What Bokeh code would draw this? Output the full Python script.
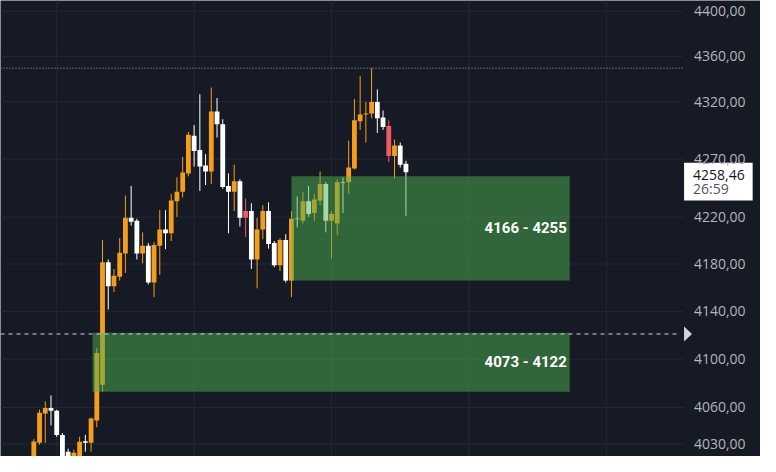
import math
from bokeh.plotting import figure
from bokeh.models import Range1d, ColumnDataSource
from bokeh.core.properties import value
from bokeh.embed import file_html
from bokeh.resources import INLINE

# ---------------- data ----------------
opens = [4013, 4031, 4055, 4059.6, 4057.4, 4037.3, 4023.7, 4011.7, 4017.3, 4032.3,
         4031, 4049.2, 4078.7, 4181.4, 4161.1, 4169.2, 4188.8, 4219.3, 4216.8, 4188.8,
         4195.4, 4164.3, 4195.4, 4209.4, 4206.1, 4233.5, 4241.7, 4257.5, 4290.2, 4277.7,
         4264.3, 4259.2, 4311.3, 4300.3, 4246.7, 4241.7, 4250.8, 4225.1, 4225.1, 4183.8,
         4209.4, 4225.1, 4197.8, 4178.9, 4200.3, 4165.9, 4218.8, 4216.8, 4233.5, 4223.4,
         4234.2, 4248.3, 4216.8, 4214.4, 4250, 4250, 4261.7, 4302.9, 4308.8, 4309.6,
         4319.7, 4306.2, 4298.6, 4272.6, 4281.7, 4265.9]
highs = [4034, 4058.2, 4065.1, 4070, 4058.1, 4039, 4026.2, 4025.4, 4035.9, 4037.5,
         4051.7, 4109, 4200.3, 4183.8, 4175.7, 4202, 4238.4, 4246.7, 4218.5, 4206.9,
         4197.8, 4198.6, 4225.9, 4225.9, 4240, 4254.2, 4271.8, 4293.5, 4299.5, 4326.5,
         4274.2, 4332.4, 4323.2, 4304.6, 4257.5, 4265, 4252.4, 4235.9, 4231.8, 4219.3,
         4230.1, 4232.6, 4199.5, 4202, 4205.3, 4225.1, 4237.7, 4241.7, 4246.7, 4240,
         4259.2, 4250, 4225.1, 4252.4, 4254.2, 4285.9, 4322.3, 4342.7, 4319.7, 4349.5,
         4330.8, 4312.2, 4303.7, 4286.8, 4284.3, 4268.5]
lows = [4009.4, 4029.4, 4031, 4045.3, 4035.8, 4009.4, 4007, 4008.6, 4013.4, 4023.7,
        4023.7, 4043.7, 4073.1, 4141.5, 4156.2, 4165.9, 4172.4, 4212.7, 4183.8, 4180.6,
        4162.7, 4152, 4170.8, 4192.6, 4199.5, 4220.1, 4236.7, 4255, 4263.4, 4242.5,
        4247.5, 4248.3, 4288.6, 4244.3, 4206.1, 4225.1, 4211.9, 4202.8, 4175.7, 4159.4,
        4201.1, 4193, 4177.3, 4174.1, 4164.3, 4152, 4211.1, 4214.4, 4220.1, 4216.8,
        4230.1, 4206.9, 4184.6, 4204.4, 4223.4, 4240, 4260.9, 4295.3, 4284.3, 4305.4,
        4292.7, 4295.3, 4267.6, 4253.4, 4262.6, 4221]
closes = [4032, 4055.7, 4059.6, 4057.4, 4037.3, 4015, 4013.4, 4022.9, 4031.9, 4031,
          4050.9, 4105.1, 4181.4, 4161.1, 4170, 4189.6, 4219.3, 4216, 4188.8, 4195.4,
          4164.3, 4196.2, 4209.4, 4206.1, 4234.2, 4241.7, 4258.4, 4291, 4276.9, 4263.4,
          4259.2, 4311.3, 4300.3, 4245.9, 4241.7, 4250.8, 4219.3, 4219.3, 4183.8, 4209.4,
          4225.1, 4197, 4178.9, 4200.3, 4165.9, 4218.5, 4218, 4233.5, 4222.6, 4235.1,
          4248.3, 4216.8, 4222.6, 4250, 4249.2, 4262.6, 4303.7, 4308.8, 4309.6, 4319.7,
          4305.4, 4297.8, 4272.6, 4281.7, 4265, 4258.46]
flagged_bars = [37, 62]          # bars drawn in red

last_price = 4258.46
countdown = "26:59"
alert_level = 4121

zone_low = [4166, 4073]
zone_high = [4255, 4122]
zone_first_bar = [45, 10.25]
zone_last_bar = [93.6, 93.6]
zone_labels = ["4166 - 4255", "4073 - 4122"]

price_ticks = [4030, 4060, 4100, 4140, 4180, 4220, 4270, 4320, 4360, 4400]
session_bars = [4, 28, 52, 76, 100]

# ---------------- layout / styling ----------------
BG = "#161a25"
GRID = "#242835"
UP = "#f59e1b"
DOWN = "#ffffff"
FLAG = "#f05a64"
AXIS_TXT = "#b2b5be"
X_MIN, X_MAX = -5.82, 126.93          # visible bar-index window
PANE_END = 113.41                     # right edge of the price pane
SCALE_X = 115.3                       # where the price-scale labels start
Y_MIN, Y_MAX = 4019.8, 4409.6
LABEL_FONT = "Open Sans"
LABEL_SIZE = "14px"

bars = list(range(len(opens)))
colors = []
for i, (o, c) in enumerate(zip(opens, closes)):
    if i in flagged_bars:
        colors.append(FLAG)
    elif c >= o:
        colors.append(UP)
    else:
        colors.append(DOWN)

src = ColumnDataSource(dict(
    x=bars, open=opens, high=highs, low=lows, close=closes,
    top=[max(o, c) for o, c in zip(opens, closes)],
    bottom=[min(o, c) for o, c in zip(opens, closes)],
    color=colors,
))

p = figure(width=760, height=456,
           x_range=Range1d(X_MIN, X_MAX), y_range=Range1d(Y_MIN, Y_MAX),
           y_axis_type="log", y_axis_location=None, x_axis_location=None,
           toolbar_location=None, output_backend="svg",
           min_border_left=0, min_border_right=0, min_border_top=0, min_border_bottom=0,
           background_fill_color=BG, border_fill_color=BG, outline_line_color=None)
p.xgrid.visible = False
p.ygrid.visible = False

# grid
n_s = len(session_bars)
p.segment(x0=session_bars, x1=session_bars, y0=[Y_MIN] * n_s, y1=[Y_MAX] * n_s,
          line_color=GRID, line_width=1)
n_t = len(price_ticks)
p.segment(x0=[X_MIN] * n_t, x1=[PANE_END] * n_t,
          y0=price_ticks, y1=price_ticks, line_color=GRID, line_width=1)

# candles
p.segment(x0="x", y0="low", x1="x", y1="high", line_color="color", line_width=1, source=src)
p.vbar(x="x", width=0.84, top="top", bottom="bottom", fill_color="color",
       line_color=None, source=src)

# zones
p.quad(left=zone_first_bar, right=zone_last_bar, bottom=zone_low, top=zone_high,
       fill_color="#4caf50", fill_alpha=0.5, line_color=None)
p.text(x=[e - 0.5 for e in zone_last_bar],
       y=[math.sqrt(l * h) for l, h in zip(zone_low, zone_high)],
       text=zone_labels, text_align="right", text_baseline="middle",
       text_color="white", text_font=value("Roboto"), text_font_style="bold",
       text_font_size="15px")

# session high (dotted) and alert line (dashed) with marker
hi = max(highs)
p.segment(x0=[X_MIN], x1=[PANE_END], y0=[hi], y1=[hi], line_color="#a3a6af",
          line_dash="1 2", line_width=1)
p.segment(x0=[X_MIN], x1=[PANE_END - 1.0], y0=[alert_level], y1=[alert_level],
          line_color="#d1d4dc", line_dash="4 4", line_width=1)
p.patch(x=[PANE_END + 0.17, PANE_END + 0.17, PANE_END + 1.55],
        y=[alert_level * 1.0015, alert_level / 1.0015, alert_level],
        fill_color="#d1d4dc", line_color=None)

# last price box
p.quad(left=[PANE_END + 0.17], right=[PANE_END + 12.15],
       top=[last_price * 1.00193], bottom=[last_price * 0.99431],
       fill_color="white", line_color=None)
p.text(x=[SCALE_X - 0.15], y=[last_price], y_offset=3,
       text=[f"{last_price:.2f}".replace(".", ",")], text_font=value(LABEL_FONT),
       text_font_size=LABEL_SIZE, text_color="#131722", text_baseline="middle",
       text_align="left")
p.text(x=[SCALE_X - 0.15], y=[last_price], y_offset=16,
       text=[countdown], text_font=value(LABEL_FONT),
       text_font_size=LABEL_SIZE, text_color="#50535e", text_baseline="middle",
       text_align="left")

# price scale labels
p.text(x=[SCALE_X] * n_t, y=price_ticks,
       text=[f"{t:.2f}".replace(".", ",") for t in price_ticks],
       text_font=value(LABEL_FONT), text_font_size=LABEL_SIZE, text_color=AXIS_TXT,
       text_baseline="middle", text_align="left")

open("out.html", "w").write(file_html(p, INLINE))
